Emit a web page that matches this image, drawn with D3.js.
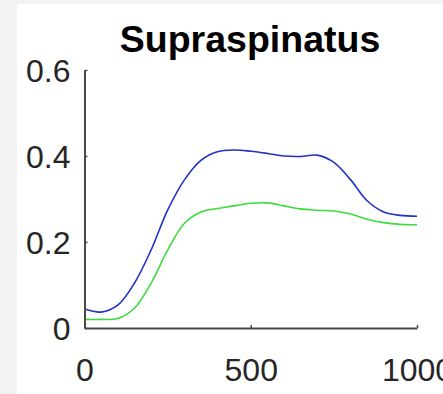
<!DOCTYPE html>
<html>
<head>
<meta charset="utf-8">
<script src="https://cdn.jsdelivr.net/npm/d3@7"></script>
<style>
  html, body { margin: 0; padding: 0; background: #f2f2f2; }
  svg { display: block; }
</style>
</head>
<body>
<svg id="chart" width="443" height="394"></svg>
<script>
const title = "Supraspinatus";
const xValues = [0, 50, 100, 150, 200, 250, 300, 350, 400, 450, 500, 550, 600, 650, 700, 750, 800, 850, 900, 950, 1000];
const blueValues = [0.044, 0.037, 0.053, 0.104, 0.181, 0.274, 0.344, 0.390, 0.410, 0.414, 0.411, 0.406, 0.400, 0.399, 0.402, 0.385, 0.345, 0.296, 0.270, 0.262, 0.260];
const greenValues = [0.020, 0.020, 0.022, 0.046, 0.104, 0.181, 0.243, 0.270, 0.278, 0.284, 0.290, 0.291, 0.284, 0.277, 0.274, 0.272, 0.265, 0.253, 0.245, 0.241, 0.240];
const xTicks = [0, 500, 1000];
const yTicks = [0, 0.2, 0.4, 0.6];
const xTickLabels = ["0", "500", "1000"];
const yTickLabels = ["0", "0.2", "0.4", "0.6"];

const svg = d3.select("#chart");
svg.append("rect").attr("x", 17).attr("y", 4).attr("width", 426).attr("height", 390).attr("fill", "#ffffff");

const x = d3.scaleLinear().domain([0, 1000]).range([84.5, 417]);
const y = d3.scaleLinear().domain([0, 0.6]).range([328, 70]);

const font = "'Liberation Sans', Arial, Helvetica, sans-serif";
const axisColor = "#4a4a4a";
const textColor = "#262626";

const line = d3.line().x(d => x(d[0])).y(d => y(d[1])).curve(d3.curveCatmullRom.alpha(0.5));

const g = svg.append("g");
g.append("path").datum(xValues.map((v, i) => [v, greenValues[i]]))
  .attr("d", line).attr("fill", "none").attr("stroke", "#3ddc3d").attr("stroke-width", 1.6);
g.append("path").datum(xValues.map((v, i) => [v, blueValues[i]]))
  .attr("d", line).attr("fill", "none").attr("stroke", "#2131c8").attr("stroke-width", 1.6);

// y axis
const yAxis = d3.axisLeft(y).tickValues(yTicks).tickFormat((d, i) => yTickLabels[i]).tickSizeInner(-3).tickSizeOuter(0).tickPadding(14);
const yg = svg.append("g").attr("transform", `translate(${x(0)},0)`).call(yAxis);
// x axis
const xAxis = d3.axisBottom(x).tickValues(xTicks).tickFormat((d, i) => xTickLabels[i]).tickSizeInner(-3).tickSizeOuter(0).tickPadding(30);
const xg = svg.append("g").attr("transform", `translate(0,${y(0)})`).call(xAxis);

[yg, xg].forEach(ax => {
  ax.select(".domain").attr("stroke", axisColor).attr("stroke-width", 2);
  ax.selectAll(".tick line").attr("stroke", axisColor).attr("stroke-width", 1.5);
  ax.selectAll(".tick text").attr("fill", textColor).style("font-family", font).style("font-size", "32px");
});
yg.selectAll(".tick text").attr("dy", "0.36em");
xg.selectAll(".tick text").attr("dy", "0.71em");

svg.append("text").attr("x", 250).attr("y", 52).attr("text-anchor", "middle")
  .style("font-family", font).style("font-size", "37.5px").style("font-weight", "bold")
  .attr("fill", "#000").text(title);
</script>
</body>
</html>
